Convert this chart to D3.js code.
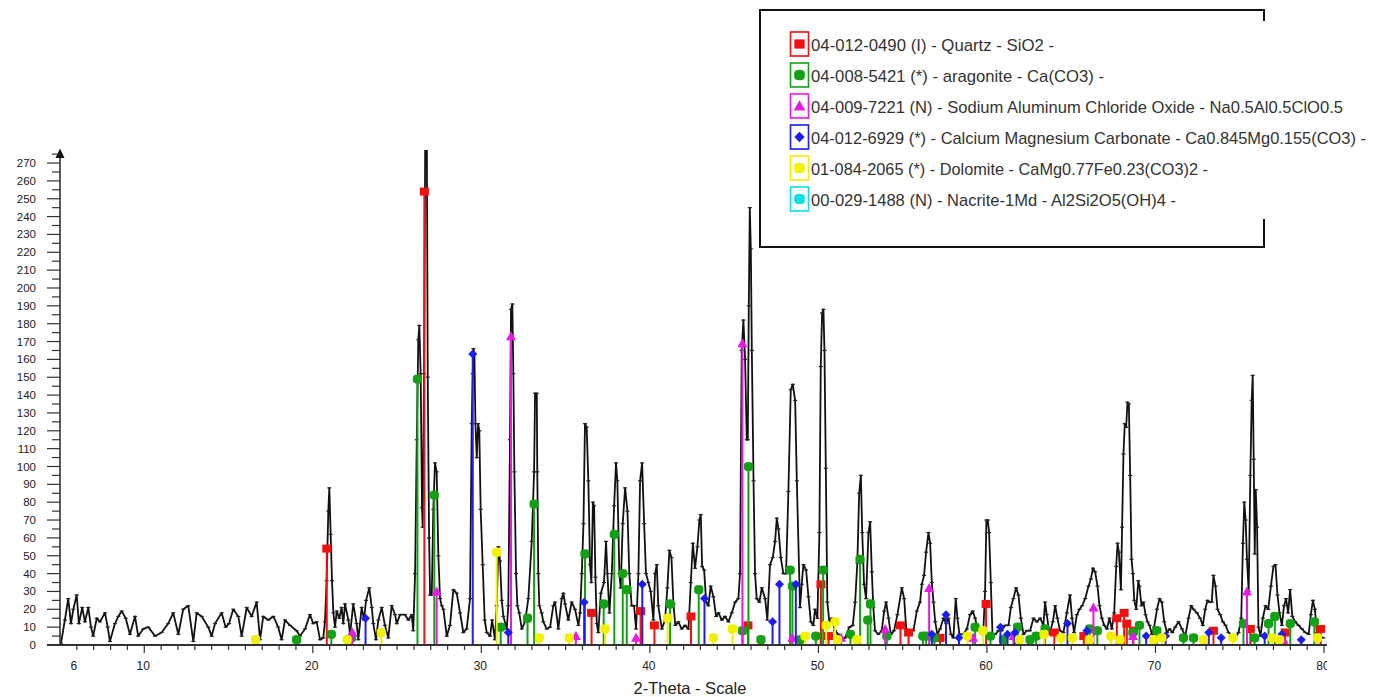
<!DOCTYPE html>
<html><head><meta charset="utf-8">
<script src="https://cdn.jsdelivr.net/npm/d3@7"></script>
<style>body{margin:0;background:#fff}svg{display:block;font-family:"Liberation Sans",Arial,sans-serif}</style>
</head><body>
<svg id="c" width="1376" height="697"></svg>
<script>
// ---------- DATA ----------
const profile = [
[5.06,1],[5.29,14],[5.49,26],[5.65,12],[5.79,20],[5.99,28],[6.12,12],[6.32,21],[6.48,13],[6.68,21],[6.84,10],[6.97,5],[7.18,15],[7.37,13],[7.67,18],[7.83,10],[7.96,2],[8.26,12],[8.46,16],[8.66,19],[8.9,15],[9.15,6],[9.45,16],[9.64,5],[9.94,9],[10.24,10],[10.64,5],[11.03,7],[11.42,12],[11.72,18],[12.02,6],[12.31,20],[12.61,22],[12.91,2],[13.11,18],[13.41,16],[13.8,10],[14.0,5],[14.2,12],[14.59,18],[14.83,10],[15.03,12],[15.28,20],[15.58,16],[15.78,5],[16.08,21],[16.37,16],[16.67,24],[16.87,3],[17.06,16],[17.36,14],[17.66,16],[17.95,10],[18.15,3],[18.35,14],
[18.65,11],[19.04,8],[19.24,5],[19.54,9],[19.83,17],[20.03,12],[20.23,13],[20.43,3],[20.62,4],[20.72,13],[20.82,36],[20.92,75],[20.98,88],[21.06,62],[21.14,36],[21.22,18],[21.32,10],[21.42,19],[21.57,15],[21.71,21],[21.81,12],[21.91,23],[22.11,14],[22.21,6],[22.4,23],[22.6,12],[22.7,3],[22.9,21],[23.04,14],[23.16,25],[23.35,32],[23.5,21],[23.59,12],[23.75,3],[23.89,14],[24.09,21],[24.28,11],[24.48,4],[24.68,22],[24.88,17],[24.98,12],[25.18,17],[25.47,17],[25.67,14],[25.87,17],[25.96,8],
[26.07,40],[26.17,115],[26.26,171],[26.32,179],[26.4,152],[26.48,77],[26.52,66],[26.6,152],[26.68,300],[26.76,300],[26.82,150],[26.9,60],[26.96,28],[27.06,28],[27.15,76],[27.25,102],[27.35,97],[27.45,50],[27.55,26],[27.65,22],[27.75,20],[27.95,5],[28.14,11],[28.34,31],[28.54,29],[28.74,18],[28.93,7],[29.13,9],[29.33,26],[29.43,124],[29.49,152],[29.53,166],[29.59,163],[29.65,124],[29.73,105],[29.81,124],[29.88,120],[29.96,76],[30.08,45],[30.2,14],[30.32,7],[30.52,5],[30.64,14],[30.81,3],[30.91,22],[31.01,55],[31.11,47],[31.21,25],[31.31,16],[31.51,9],[31.6,22],[31.7,115],[31.76,188],[31.84,191],[31.9,152],[31.96,97],[32.06,40],[32.14,22],[32.25,18],[32.4,9],[32.59,13],[32.79,26],[32.99,58],[33.13,97],[33.19,141],[33.29,141],[33.32,97],[33.38,40],[33.44,22],
[33.58,18],[33.68,13],[33.88,9],[34.08,10],[34.27,22],[34.37,24],[34.57,9],[34.77,26],[34.87,29],[34.97,23],[35.16,14],[35.36,24],[35.56,20],[35.76,11],[35.86,18],[35.96,40],[36.06,68],[36.15,124],[36.25,122],[36.35,92],[36.45,45],[36.53,35],[36.62,80],[36.69,78],[36.77,38],[36.85,12],[36.94,7],[37.09,29],[37.28,35],[37.4,58],[37.48,40],[37.6,18],[37.74,40],[37.88,78],[37.99,102],[38.07,92],[38.19,40],[38.27,32],[38.39,68],[38.53,88],[38.67,75],[38.78,40],[38.92,22],[39.06,22],[39.18,9],[39.32,40],[39.42,92],[39.54,102],[39.66,68],[39.77,40],[39.91,35],[40.05,30],[40.21,14],[40.31,40],[40.41,45],[40.5,22],[40.71,9],[40.9,14],[41.04,32],[41.16,53],[41.28,49],[41.4,23],[41.51,11],[41.69,13],[41.89,9],[42.09,11],[42.29,9],[42.43,35],[42.55,57],[42.68,43],[42.82,55],[42.94,70],[43.02,73],[43.1,44],[43.22,42],[43.34,24],[43.47,22],[43.61,33],[43.77,27],[43.93,16],[44.07,18],[44.27,14],[44.46,16],[44.66,13],[44.86,18],[45.06,24],[45.25,26],[45.35,40],[45.45,165],[45.55,182],[45.65,160],[45.75,115],[45.81,115],[45.87,190],[45.93,245],[45.99,222],[46.05,165],[46.15,92],[46.24,40],[46.34,26],[46.5,24],[46.64,32],[46.84,26],[46.97,14],[47.13,45],[47.29,49],[47.43,58],[47.53,71],[47.63,65],[47.77,49],[47.92,40],[48.08,40],[48.22,86],[48.36,143],[48.48,146],[48.62,137],[48.72,92],
[48.91,21],[49.01,34],[49.11,45],[49.27,42],[49.41,27],[49.55,13],[49.7,11],[49.8,20],[49.94,15],[50.06,63],[50.14,156],[50.22,186],[50.3,188],[50.36,165],[50.44,99],[50.53,24],[50.65,13],[50.79,15],[50.99,8],[51.19,6],[51.39,4],[51.58,4],[51.84,10],[52.04,11],[52.18,24],[52.31,46],[52.42,85],[52.52,95],[52.6,63],[52.71,34],[52.83,26],[52.97,63],[53.07,69],[53.17,41],[53.26,21],[53.36,8],[53.56,6],[53.76,8],[53.9,19],[54.02,24],[54.16,15],[54.3,6],[54.49,8],[54.69,17],[54.95,32],[55.09,26],[55.21,9],[55.4,8],[55.64,8],[55.84,19],[56.03,24],[56.14,34],[56.27,39],[56.39,52],[56.53,63],[56.63,57],[56.73,35],[56.83,24],[56.93,13],[57.06,6],[57.22,9],[57.42,15],[57.58,12],[57.72,15],[57.86,6],[58.01,4],[58.15,26],[58.25,15],[58.37,6],[58.6,6],[58.81,9],[59.0,17],[59.16,19],[59.3,15],[59.44,9],[59.6,8],[59.79,9],[59.89,30],[59.97,70],[60.05,70],[60.13,63],[60.23,35],[60.33,6],[60.49,6],[60.68,8],[60.88,8],[61.08,11],[61.28,11],[61.42,21],[61.57,26],[61.73,32],[61.87,28],[62.01,15],[62.17,6],[62.37,8],[62.56,8],[62.76,15],[62.96,13],[63.16,15],[63.35,11],[63.45,24],[63.55,17],[63.71,6],[63.91,13],[64.05,22],[64.18,15],[64.34,8],
[64.54,7],[64.74,18],[64.93,28],[65.05,15],[65.17,7],[65.34,17],[65.49,20],[65.65,22],[65.83,26],[66.03,33],[66.17,37],[66.29,43],[66.42,41],[66.56,33],[66.68,22],[66.82,15],[66.96,11],[67.12,9],[67.27,15],[67.41,9],[67.55,18],[67.67,44],[67.75,57],[67.83,52],[67.95,31],[68.02,66],[68.1,107],[68.18,124],[68.26,122],[68.34,136],[68.42,135],[68.5,95],[68.58,48],[68.66,40],[68.74,25],[68.86,20],[68.98,36],[69.05,33],[69.17,22],[69.29,24],[69.41,17],[69.53,13],[69.65,11],[69.79,6],[69.92,10],[70.09,20],[70.24,26],[70.38,24],[70.52,13],[70.68,7],[70.84,9],[71.0,7],[71.17,10],[71.37,13],[71.57,9],[71.77,5],[71.96,15],[72.12,22],[72.26,20],[72.46,18],[72.65,15],[72.81,11],[72.95,20],[73.09,25],[73.2,24],[73.34,24],[73.44,39],[73.56,33],[73.68,20],[73.84,17],[74.0,13],[74.16,11],[74.33,7],[74.53,5],[74.73,4],[74.93,7],[75.09,15],[75.19,57],[75.27,80],[75.35,70],[75.43,48],[75.53,30],[75.63,95],[75.71,137],[75.77,151],[75.83,104],[75.89,51],[75.95,87],[76.03,66],[76.11,10],[76.23,5],[76.37,15],[76.53,22],[76.69,20],[76.85,33],[77.0,44],[77.12,45],[77.24,28],[77.36,18],[77.5,11],[77.63,22],[77.75,26],[77.87,18],[77.99,31],[78.12,16],[78.29,13],[78.49,11],[78.69,9],[78.89,7],[79.09,6],[79.22,17],[79.34,25],[79.46,20],[79.58,7],[79.73,5],[79.97,4]
];

const quartzSticks = [[20.83,54],[26.62,254],[36.54,18],[39.45,19],[40.27,11],[42.44,16],[45.82,11],[50.15,34],[50.6,5],[54.87,11],[55.35,7],[57.22,4],[59.95,23],[64.0,7],[65.75,5],[67.71,15],[68.14,18],[68.3,12],[68.69,8],[73.44,8],[75.63,9],[77.7,7],[79.8,9]];
const aragoniteSticks = [[19.04,3],[21.1,6],[22.3,4],[26.21,149],[27.21,84],[31.15,10],[32.74,15],[33.13,79],[36.15,51],[37.26,23],[37.89,62],[38.39,40],[38.63,31],[41.2,23],[42.9,31],[45.5,8],[45.85,100],[46.59,3],[48.32,42],[48.46,33],[48.91,3],[49.85,5],[50.28,42],[51.9,6],[52.47,48],[52.93,14],[53.09,23],[54.06,5],[56.2,5],[56.39,5],[56.88,4],[59.3,10],[60.21,5],[60.98,3],[61.82,10],[62.56,3],[62.92,5],[63.45,9],[66.1,9],[66.55,8],[68.66,7],[69.05,11],[70.08,8],[71.66,4],[72.26,4],[75.22,12],[75.88,4],[76.71,12],[77.08,16],[78.0,12],[79.43,13]];
const sodiumSticks = [[22.35,7],[27.35,30],[31.76,173],[35.61,5],[39.18,4],[45.49,169],[48.45,4],[51.35,4],[53.96,9],[56.57,32],[59.18,4],[61.57,5],[66.32,21],[68.67,5],[75.43,30],[77.6,3]];
const camgSticks = [[23.13,15],[29.49,163],[31.6,7],[36.1,24],[39.55,34],[43.24,26],[47.28,13],[47.69,34],[48.66,34],[56.73,6],[57.57,17],[58.34,4],[60.8,10],[61.22,6],[61.67,7],[64.78,12],[65.93,8],[69.45,5],[70.6,5],[73.16,7],[73.9,4],[76.48,5],[77.5,6],[78.65,3]];
const dolomiteSticks = [[16.61,3],[22.04,3],[24.06,7],[30.91,52],[33.44,4],[35.22,4],[37.34,9],[41.06,15],[43.77,4],[44.9,9],[49.21,5],[50.46,11],[50.99,13],[51.13,3],[52.29,3],[58.84,5],[59.76,8],[61.93,3],[63.39,6],[64.4,4],[65.07,4],[66.08,3],[67.35,5],[67.9,3],[69.88,3],[70.38,4],[72.85,3],[74.59,4],[76.93,4],[77.36,3],[79.61,4]];
const nacriteSticks = [];

const legendLabels = [
  "04-012-0490 (I) - Quartz - SiO2 -",
  "04-008-5421 (*) - aragonite - Ca(CO3) -",
  "04-009-7221 (N) - Sodium Aluminum Chloride Oxide - Na0.5Al0.5ClO0.5",
  "04-012-6929 (*) - Calcium Magnesium Carbonate - Ca0.845Mg0.155(CO3) -",
  "01-084-2065 (*) - Dolomite - CaMg0.77Fe0.23(CO3)2 -",
  "00-029-1488 (N) - Nacrite-1Md - Al2Si2O5(OH)4 -"
];
const yTickValues = d3.range(0, 271, 10);
const xTickLabels = [6, 10, 20, 30, 40, 50, 60, 70, 80];
const xTitle = "2-Theta - Scale";

// ---------- STYLE / LAYOUT ----------
const phaseColors = ["#f21010", "#14a014", "#e619e6", "#1c1cf5", "#f2f200", "#10e0e0"];
const phaseShapes = ["square", "circle", "triangle", "diamond", "circle", "circle"];
const phaseData = [quartzSticks, aragoniteSticks, sodiumSticks, camgSticks, dolomiteSticks, nacriteSticks];
const legendTextEnds = [1054, 1104, 1343, 1366, 1208, 1176];

const svg = d3.select("#c");
const x = d3.scaleLinear().domain([5, 80]).range([60, 1324]);
const y = d3.scaleLinear().domain([0, 277.3]).range([645, 150]);

svg.append("defs").append("clipPath").attr("id", "plotclip")
  .append("rect").attr("x", 60).attr("y", 150).attr("width", 1267).attr("height", 497);
svg.select("defs").append("clipPath").attr("id", "axclip")
  .append("rect").attr("x", 0).attr("y", 0).attr("width", 1327).attr("height", 697);

function symbolPath(shape, cx, cy) {
  if (shape === "square") return `M${cx-4.5},${cy-4}h9v8h-9z`;
  if (shape === "triangle") return `M${cx},${cy-5}L${cx+5},${cy+4}L${cx-5},${cy+4}Z`;
  if (shape === "diamond") return `M${cx},${cy-4.5}L${cx+4.5},${cy}L${cx},${cy+4.5}L${cx-4.5},${cy}Z`;
  return `M${cx-4.6},${cy-1.5}Q${cx-4.6},${cy-4.6} ${cx},${cy-4.6}Q${cx+4.6},${cy-4.6} ${cx+4.6},${cy-1.5}V${cy+1.5}Q${cx+4.6},${cy+4.6} ${cx},${cy+4.6}Q${cx-4.6},${cy+4.6} ${cx-4.6},${cy+1.5}Z`;
}

// ---------- PROFILE ----------
const plot = svg.append("g").attr("clip-path", "url(#plotclip)");
plot.append("path").datum(profile)
  .attr("fill", "none").attr("stroke", "#111").attr("stroke-width", 1.8).attr("stroke-linejoin", "round")
  .attr("d", d3.line().x(d => x(d[0])).y(d => y(d[1])));
plot.append("g").selectAll("line").data(profile).join("line")
  .attr("x1", d => x(d[0]) - 2).attr("x2", d => x(d[0]) + 2)
  .attr("y1", d => y(d[1])).attr("y2", d => y(d[1]))
  .attr("stroke", "#222").attr("stroke-width", 1.2);

// ---------- STICKS ----------
phaseData.forEach((arr, i) => {
  const g = plot.append("g");
  g.selectAll("line").data(arr).join("line")
    .attr("x1", d => x(d[0])).attr("x2", d => x(d[0]))
    .attr("y1", y(0)).attr("y2", d => y(d[1]))
    .attr("stroke", phaseColors[i]).attr("stroke-width", 2);
  g.selectAll("path").data(arr).join("path")
    .attr("d", d => symbolPath(phaseShapes[i], x(d[0]), y(d[1])))
    .attr("fill", phaseColors[i]);
});

// ---------- AXES ----------
const ax = svg.append("g").attr("clip-path", "url(#axclip)");
const axisColor = "#333";
ax.append("line").attr("x1", 60).attr("x2", 60).attr("y1", 645).attr("y2", 152)
  .attr("stroke", axisColor).attr("stroke-width", 1.6);
ax.append("path").attr("d", "M55.5,158L60,148.5L64.5,158Z").attr("fill", "#111");
const yMinor = d3.range(5, 280, 10);
ax.selectAll(".ymin").data(yMinor).join("line").attr("class", "ymin")
  .attr("x1", 52).attr("x2", 60).attr("y1", d => y(d)).attr("y2", d => y(d))
  .attr("stroke", axisColor).attr("stroke-width", 1.2);
ax.selectAll(".ymaj").data(yTickValues).join("line").attr("class", "ymaj")
  .attr("x1", 47).attr("x2", 60).attr("y1", d => y(d)).attr("y2", d => y(d))
  .attr("stroke", axisColor).attr("stroke-width", 1.2);
ax.selectAll(".ylab").data(yTickValues).join("text").attr("class", "ylab")
  .attr("x", 36).attr("y", d => y(d)).attr("dy", "0.35em")
  .attr("text-anchor", "end").attr("font-size", 11.5).attr("fill", "#222").text(d => d);
ax.append("line").attr("x1", 47).attr("x2", 1327).attr("y1", 645).attr("y2", 645)
  .attr("stroke", axisColor).attr("stroke-width", 1.8);
const xMinor = d3.range(6, 81, 1).filter(v => v % 10 !== 0);
ax.selectAll(".xmin").data(xMinor).join("line").attr("class", "xmin")
  .attr("x1", d => x(d)).attr("x2", d => x(d)).attr("y1", 646).attr("y2", 650)
  .attr("stroke", axisColor).attr("stroke-width", 1.2);
ax.selectAll(".xmaj").data(d3.range(10, 81, 10)).join("line").attr("class", "xmaj")
  .attr("x1", d => x(d)).attr("x2", d => x(d)).attr("y1", 645).attr("y2", 653)
  .attr("stroke", axisColor).attr("stroke-width", 1.2);
ax.selectAll(".xlab").data(xTickLabels).join("text").attr("class", "xlab")
  .attr("x", d => x(d) - (d === 6 ? 3 : 1)).attr("y", 670)
  .attr("text-anchor", "middle").attr("font-size", 12).attr("fill", "#222").text(d => d);
svg.append("text").attr("x", 690).attr("y", 694).attr("text-anchor", "middle")
  .attr("font-size", 16.5).attr("fill", "#222").text(xTitle);

// ---------- LEGEND ----------
const lg = svg.append("g");
lg.append("path")
  .attr("d", "M1264,21V10H760V247H1264V219")
  .attr("fill", "none").attr("stroke", "#111").attr("stroke-width", 2);
legendLabels.forEach((lab, i) => {
  const cy = 44 + i * 31;
  lg.append("rect").attr("x", 790.5).attr("y", cy - 12).attr("width", 18).attr("height", 24)
    .attr("fill", "#fff").attr("stroke", phaseColors[i]).attr("stroke-width", 1.6);
  lg.append("path").attr("d", symbolPath(phaseShapes[i], 799.5, cy)).attr("fill", phaseColors[i])
    .attr("transform", `translate(${799.5},${cy}) scale(1.15) translate(${-799.5},${-cy})`);
  lg.append("text").attr("x", 811).attr("y", cy + 6.5)
    .attr("font-size", 17).attr("fill", "#333")
    .attr("textLength", legendTextEnds[i] - 811).attr("lengthAdjust", "spacingAndGlyphs")
    .text(lab);
});
</script>
</body></html>
